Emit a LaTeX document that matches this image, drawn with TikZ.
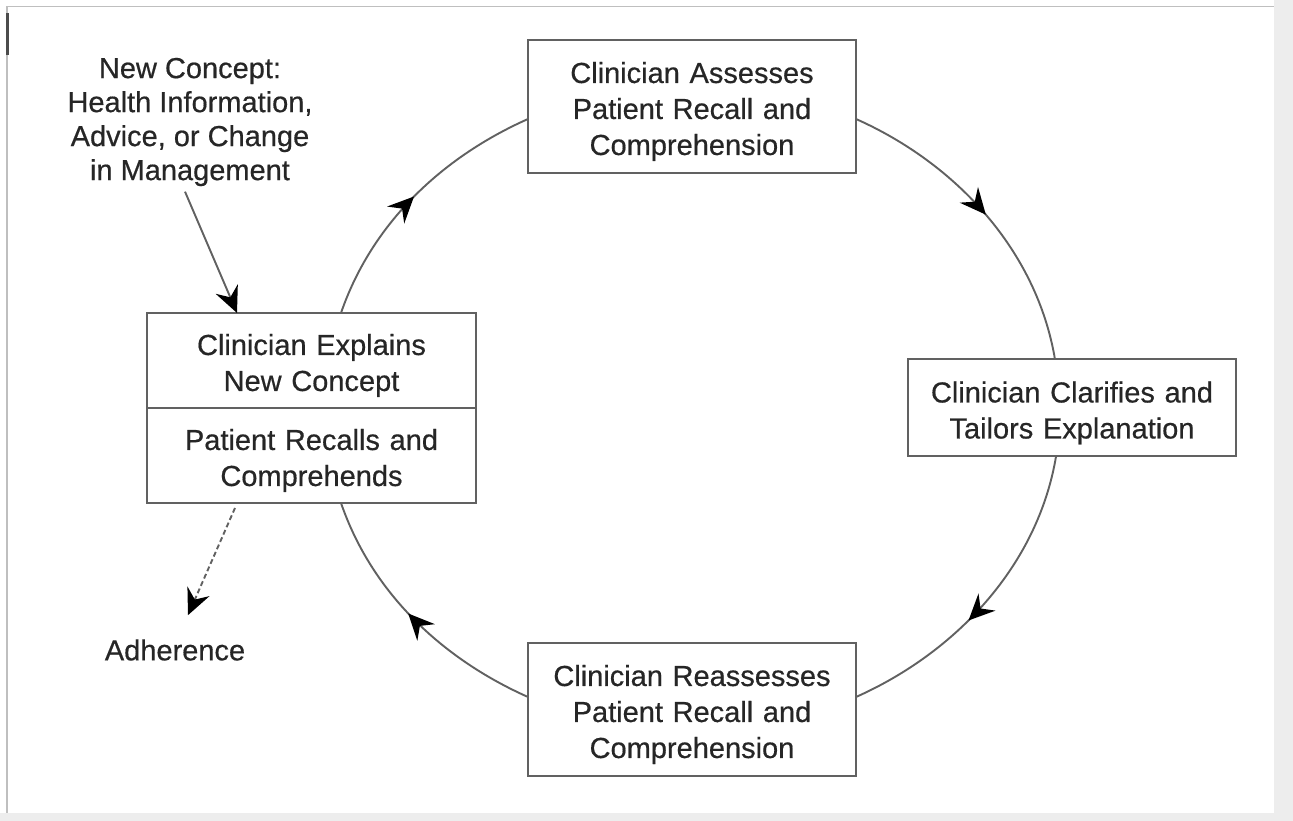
\documentclass[tikz,border=0pt]{standalone}
\usepackage{fontspec}
\setmainfont{Liberation Sans}[FakeBold=0.5]
\usetikzlibrary{positioning,arrows.meta,decorations.markings}

\begin{document}
\begin{tikzpicture}[x=1pt, y=1pt,
      every node/.style={text=black!85, font=\fontsize{29}{36}\selectfont, align=center},
      cbox/.style={draw=black!62, line width=2pt, outer sep=0pt, minimum width=328pt, text width=310pt,
        execute at begin node={\rule{0pt}{31pt}}},
      cycarrow/.style={draw=black!62, line width=1.9pt, looseness=0.9, postaction={decorate},
        decoration={markings, mark=at position #1 with {\arrow{Stealth[length=26pt,width=24pt,inset=9pt,color=black]}}}},
      cycarrow/.default=0.5,
      pointer/.style={draw=black!62, line width=1.9pt, -{Stealth[length=26pt,width=24pt,inset=9pt,color=black]}}]
      \useasboundingbox (0,0) rectangle (1293,821);

      % Background panel
      \fill[white] (0,0) rectangle (1293,821);
      \fill[black!7] (1274,0) rectangle (1293,821);
      \fill[black!7] (0,0) rectangle (1293,8);
      \draw[black!25, line width=1.2pt] (7,8) -- (7,814.5) -- (1274,814.5);
      \draw[black!70, line width=3pt] (7,766) -- (7,808);

      % Define nodes
      \node[cbox, minimum height=133pt] (assess) at (692,714.5) {Clinician Assesses\\Patient Recall and\\Comprehension};
      \node[cbox, minimum height=97pt] (clarify) at (1072,413) {Clinician Clarifies and\\Tailors Explanation};
      \node[cbox, minimum height=133pt] (reassess) at (692,111.5) {Clinician Reassesses\\Patient Recall and\\Comprehension};
      \node[cbox, minimum height=95pt, minimum width=329pt] (explain) at (311.5,460.5) {Clinician Explains\\New Concept};
      \node[cbox, minimum height=95pt, minimum width=329pt, below=0pt of explain] (recall) {Patient Recalls and\\Comprehends};
      \node[font=\fontsize{29}{34}\selectfont] (concept) at (190,699) {New Concept:\\Health Information,\\Advice, or Change\\in Management};
      \node[inner sep=0pt] (adherence) at (175,171) {Adherence};

      % Connect nodes around the cycle
      \draw[cycarrow] ([xshift=29.5pt]explain.north) to[out=71,in=204] ([yshift=-12.5pt]assess.west);
      \draw[cycarrow] ([yshift=-12.5pt]assess.east) to[out=-24,in=99.5] ([xshift=-17pt]clarify.north);
      \draw[cycarrow=0.58] ([xshift=-16pt]clarify.south) to[out=-99.5,in=24] ([yshift=12.5pt]reassess.east);
      \draw[cycarrow=0.53] ([yshift=12.5pt]reassess.west) to[out=156,in=-71] ([xshift=29.5pt]recall.south);

      % Input and outcome
      \draw[pointer] ([xshift=-5pt,yshift=-2pt]concept.south) -- ([xshift=-74.5pt]explain.north);
      \draw[pointer, dash pattern=on 5pt off 3pt] ([xshift=-76.5pt,yshift=-5pt]recall.south) -- ([xshift=13pt,yshift=24pt]adherence.north);
    \end{tikzpicture}
\end{document}
